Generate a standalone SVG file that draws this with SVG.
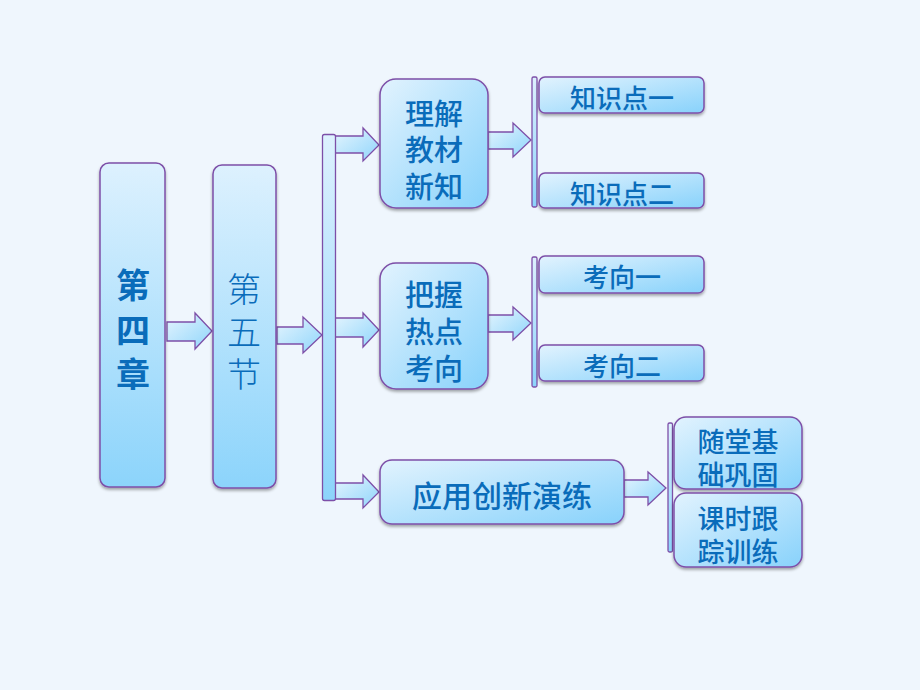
<svg xmlns="http://www.w3.org/2000/svg" width="920" height="690" viewBox="0 0 920 690">
<defs>
<linearGradient id="g" x1="0" y1="0" x2="1" y2="1">
<stop offset="0" stop-color="#E2F3FE"/>
<stop offset="1" stop-color="#88D2FB"/>
</linearGradient>
<linearGradient id="gv" x1="0" y1="0" x2="0" y2="1">
<stop offset="0" stop-color="#DDF1FE"/>
<stop offset="1" stop-color="#8CD4FB"/>
</linearGradient>
<linearGradient id="ga" x1="0" y1="0" x2="1" y2="1">
<stop offset="0" stop-color="#E6F5FE"/>
<stop offset="1" stop-color="#8FD5FB"/>
</linearGradient>
<filter id="sh" x="-20%" y="-20%" width="140%" height="140%">
<feDropShadow dx="0" dy="2" stdDeviation="1.5" flood-color="#000" flood-opacity="0.35"/>
</filter>
</defs>
<style>
.box{fill:url(#g);stroke:#7D4FA8;stroke-width:1.5;filter:url(#sh)}
.tall{fill:url(#gv);stroke:#7D4FA8;stroke-width:1.5;filter:url(#sh)}
.bar{fill:url(#gv);stroke:#7D4FA8;stroke-width:1.3}
.arr{fill:url(#ga);stroke:#7D4FA8;stroke-width:1.3}
.t{font-family:"Noto Sans CJK SC","Noto Sans CJK TC",sans-serif;fill:#0A6CBA;text-anchor:middle;dominant-baseline:central;font-weight:500}
.b{font-weight:bold}
</style>
<rect width="920" height="690" fill="#EFF6FD"/>

<g id="connectors">
<polygon class="arr" points="167,322 195,322 195,313 212,331 195,349 195,341 167,341"/>
<polygon class="arr" points="277,327 303,327 303,317 322,335 303,353 303,344 277,344"/>
<polygon class="arr" points="335,136 363,136 363,128 379,145 363,161 363,153 335,153"/>
<polygon class="arr" points="335,318 363,318 363,313 379,330 363,347 363,337 335,337"/>
<polygon class="arr" points="335,483 363,483 363,475 379,492 363,508 363,499 335,499"/>
<polygon class="arr" points="488,132 513,132 513,123 531,140 513,157 513,149 488,149"/>
<polygon class="arr" points="488,315 513,315 513,307 531,323 513,340 513,332 488,332"/>
<polygon class="arr" points="624,480 648,480 648,472 666,488 648,505 648,497 624,497"/>
<rect class="bar" x="322.5" y="134.5" width="13" height="366" rx="2"/>
<rect class="bar" x="532" y="77" width="5" height="130" rx="1.5"/>
<rect class="bar" x="532" y="257" width="5" height="130" rx="1.5"/>
<rect class="bar" x="668" y="423" width="4.5" height="129" rx="1.5"/>
</g>

<g id="n-chapter">
<rect class="tall" x="100" y="163" width="65" height="324" rx="9"/>
<text class="t b" font-size="34"><tspan x="133" y="283">第</tspan><tspan x="133" y="328">四</tspan><tspan x="133" y="372">章</tspan></text>
</g>

<g id="n-section">
<rect class="tall" x="213" y="165" width="63" height="323" rx="9"/>
<text class="t" font-size="34" style="font-weight:300"><tspan x="244" y="287">第</tspan><tspan x="244" y="330">五</tspan><tspan x="244" y="372">节</tspan></text>
</g>

<g id="n-lijie">
<rect class="box" x="380" y="79" width="108" height="129" rx="16"/>
<text class="t" font-size="29"><tspan x="434" y="112">理解</tspan><tspan x="434" y="148">教材</tspan><tspan x="434" y="185">新知</tspan></text>
</g>

<g id="n-k1">
<rect class="box" x="539" y="77" width="165" height="36" rx="6"/>
<text class="t" x="622" y="96" font-size="26">知识点一</text>
</g>
<g id="n-k2">
<rect class="box" x="539" y="173" width="165" height="35" rx="6"/>
<text class="t" x="622" y="192" font-size="26">知识点二</text>
</g>

<g id="n-bawo">
<rect class="box" x="380" y="263" width="108" height="126" rx="16"/>
<text class="t" font-size="29"><tspan x="434" y="293">把握</tspan><tspan x="434" y="330">热点</tspan><tspan x="434" y="367">考向</tspan></text>
</g>

<g id="n-x1">
<rect class="box" x="539" y="256" width="165" height="37" rx="6"/>
<text class="t" x="622" y="275" font-size="26">考向一</text>
</g>
<g id="n-x2">
<rect class="box" x="539" y="345" width="165" height="36" rx="6"/>
<text class="t" x="622" y="364" font-size="26">考向二</text>
</g>

<g id="n-yingyong">
<rect class="box" x="380" y="460" width="244" height="64" rx="12"/>
<text class="t" x="502" y="494" font-size="30">应用创新演练</text>
</g>

<g id="n-suitang">
<rect class="box" x="674" y="417" width="128" height="72" rx="12"/>
<text class="t" font-size="27"><tspan x="738" y="440">随堂基</tspan><tspan x="738" y="473">础巩固</tspan></text>
</g>
<g id="n-keshi">
<rect class="box" x="674" y="493" width="128" height="74" rx="12"/>
<text class="t" font-size="27"><tspan x="738" y="517">课时跟</tspan><tspan x="738" y="550">踪训练</tspan></text>
</g>
</svg>
